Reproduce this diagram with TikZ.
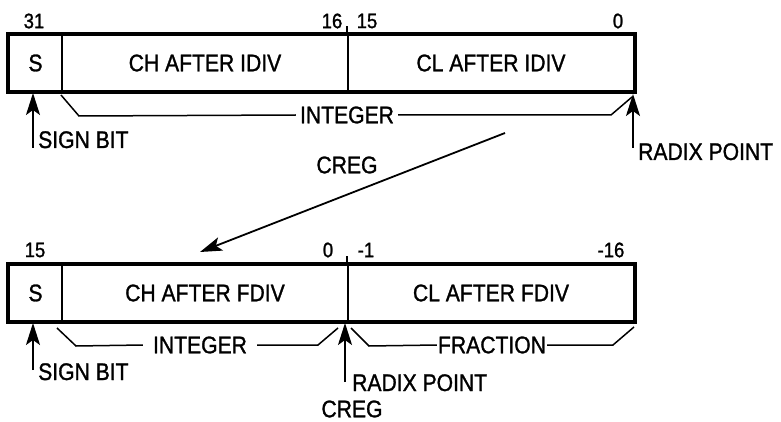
\documentclass[tikz,border=0pt]{standalone}
\usepackage{fontspec}
\setmainfont[FakeStretch=0.88,FakeBold=1.2]{Liberation Sans}
\usetikzlibrary{arrows.meta}
\begin{document}
\begin{tikzpicture}[x=1pt,y=-1pt,
    field/.style={draw,line width=2pt,minimum height=56pt,inner sep=0pt,
      font=\fontsize{24}{24}\selectfont},
    txt/.style={inner sep=0pt,font=\fontsize{24}{24}\selectfont},
    bitno/.style={inner sep=0pt,font=\fontsize{21}{21}\selectfont},
    brace/.style={line width=1.5pt},
    ptr/.style={line width=1.8pt,-{Stealth[length=22pt,width=14pt,inset=5pt]}}]
  \useasboundingbox (0,0) rectangle (781,422);

  % after IDIV
  \node[field,minimum width=53pt] (s1) at (35.5,63) {S};
  \node[field,minimum width=286pt] (ch1) at (205,63) {CH AFTER IDIV};
  \node[field,minimum width=286pt] (cl1) at (491,63) {CL AFTER IDIV};
  \draw[line width=3.5pt] (s1.north west) rectangle (cl1.south east);
  \draw[line width=2pt] (cl1.north west) -- ++(0,-8);

  \node[bitno] (b31) at (34,21) {31};
  \node[bitno] (b16) at (332,21) {16};
  \node[bitno] (b15) at (367,21) {15};
  \node[bitno] (b0) at (618,21) {0};

  \node[txt,inner xsep=4pt] (int1) at (347,115) {INTEGER};
  \draw[brace] ([yshift=-3pt]ch1.south west) -- ++(18,21) -- (int1.west);
  \draw[brace] (int1.east) -- (611,115) -- ([shift={(-3pt,-5pt)}]cl1.south east);

  \coordinate (sb1) at (33,148);
  \draw[ptr] (sb1) -- (33,93);
  \node[txt,anchor=base west] (sign1) at ([xshift=5pt]sb1) {SIGN BIT};
  \coordinate (rp1) at (633,148);
  \draw[ptr] (rp1) -- (633,94);
  \node[txt,anchor=base west] (radix1) at (638,160) {RADIX POINT};

  \node[txt] (creg1) at (347,165) {CREG};
  \coordinate (from) at (505,133);
  \coordinate (to) at (200,252);
  \draw[ptr] (from) -- (to);

  % after FDIV
  \node[field,minimum width=53pt] (s2) at (35.5,293) {S};
  \node[field,minimum width=286pt] (ch2) at (205,293) {CH AFTER FDIV};
  \node[field,minimum width=286pt] (cl2) at (491,293) {CL AFTER FDIV};
  \draw[line width=3.5pt] (s2.north west) rectangle (cl2.south east);
  \draw[line width=2pt] (cl2.north west) -- ++(0,-8);

  \node[bitno] (c15) at (35,250) {15};
  \node[bitno] (c0) at (328,250) {0};
  \node[bitno] (cm1) at (366,250) {-1};
  \node[bitno] (cm16) at (611,250) {-16};

  \node[txt,inner xsep=10pt] (int2) at (200,345) {INTEGER};
  \draw[brace] ([shift={(-4pt,-6pt)}]ch2.south west) -- ++(19,18) -- (int2.west);
  \draw[brace] (int2.east) -- (318,345) -- ([shift={(-11pt,-6pt)}]ch2.south east);
  \node[txt,inner xsep=1pt] (frac) at (492,345) {FRACTION};
  \draw[brace] ([shift={(4pt,-6pt)}]cl2.south west) -- ++(18,18) -- (frac.west);
  \draw[brace] (frac.east) -- (613,345) -- ([shift={(-1pt,-5pt)}]cl2.south east);

  \coordinate (sb2) at (33,370);
  \draw[ptr] (sb2) -- (33,323);
  \node[txt,anchor=base west] (sign2) at (38,380) {SIGN BIT};
  \coordinate (rp2) at (345,382);
  \draw[ptr] (rp2) -- (345,323);
  \node[txt,anchor=base west] (radix2) at (352,391) {RADIX POINT};
  \node[txt] (creg2) at (352,409) {CREG};
\end{tikzpicture}
\end{document}
